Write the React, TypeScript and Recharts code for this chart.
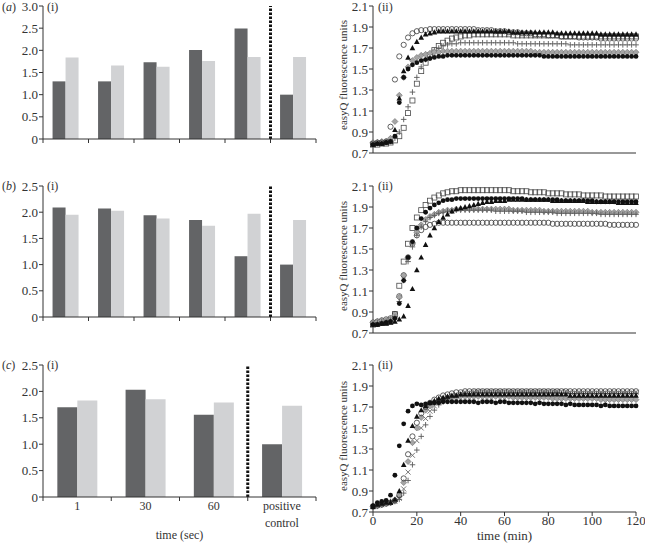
import React from 'react';
import { BarChart, Bar, LineChart, Line, XAxis, YAxis, ReferenceLine } from 'recharts';

const FONT = '"Liberation Serif", "Times New Roman", serif';
const INK = '#333';
const DARK = '#636466';
const LIGHT = '#d1d2d4';

// ---- (i) bar panels ----
const aCategories = ['1', '2', '3', '4', '5', 'positive control'];
const aDark = [1.3, 1.3, 1.73, 2.01, 2.49, 1.0];
const aLight = [1.84, 1.66, 1.63, 1.76, 1.85, 1.85];

const bCategories = ['1', '2', '3', '4', '5', 'positive control'];
const bDark = [2.09, 2.07, 1.94, 1.85, 1.16, 1.0];
const bLight = [1.95, 2.03, 1.88, 1.74, 1.97, 1.85];

const cCategories = ['1', '30', '60', 'positive control'];
const cDark = [1.7, 2.03, 1.56, 1.0];
const cLight = [1.83, 1.85, 1.79, 1.73];

const ticks30 = [0, 0.5, 1, 1.5, 2, 2.5, 3];
const ticks25 = [0, 0.5, 1, 1.5, 2, 2.5];

// ---- (ii) fluorescence panels, one reading every 2 min ----
const minutes = [
  0, 2, 4, 6, 8, 10, 12, 14, 16, 18,
  20, 22, 24, 26, 28, 30, 32, 34, 36, 38,
  40, 42, 44, 46, 48, 50, 52, 54, 56, 58,
  60, 62, 64, 66, 68, 70, 72, 74, 76, 78,
  80, 82, 84, 86, 88, 90, 92, 94, 96, 98,
  100, 102, 104, 106, 108, 110, 112, 114, 116, 118,
  120,
];
const minuteTicks = [0, 20, 40, 60, 80, 100, 120];
const fluoTicks = [0.7, 0.9, 1.1, 1.3, 1.5, 1.7, 1.9, 2.1];

const aSquare = [
  0.78, 0.78, 0.79, 0.79, 0.80, 0.82, 0.86, 0.94, 1.08, 1.20,
  1.36, 1.48, 1.56, 1.63, 1.68, 1.72, 1.75, 1.77, 1.79, 1.80,
  1.81, 1.82, 1.82, 1.83, 1.83, 1.83, 1.83, 1.83, 1.83, 1.83,
  1.83, 1.83, 1.82, 1.82, 1.82, 1.82, 1.82, 1.82, 1.82, 1.82,
  1.82, 1.82, 1.82, 1.81, 1.81, 1.81, 1.81, 1.81, 1.81, 1.81,
  1.81, 1.81, 1.81, 1.81, 1.81, 1.81, 1.81, 1.81, 1.81, 1.81,
  1.81,
];
const aPlus = [
  0.79, 0.79, 0.80, 0.80, 0.81, 0.84, 0.90, 1.02, 1.14, 1.28,
  1.42, 1.52, 1.59, 1.64, 1.68, 1.70, 1.72, 1.73, 1.74, 1.74,
  1.75, 1.75, 1.75, 1.75, 1.75, 1.75, 1.75, 1.75, 1.75, 1.75,
  1.75, 1.75, 1.75, 1.74, 1.74, 1.74, 1.74, 1.74, 1.74, 1.74,
  1.74, 1.74, 1.74, 1.74, 1.74, 1.73, 1.73, 1.73, 1.73, 1.73,
  1.73, 1.73, 1.73, 1.73, 1.73, 1.73, 1.73, 1.73, 1.73, 1.73,
  1.73,
];
const aDiamond = [
  0.80, 0.80, 0.81, 0.81, 0.84, 1.00, 1.25, 1.42, 1.52, 1.58,
  1.61, 1.63, 1.64, 1.65, 1.66, 1.66, 1.67, 1.67, 1.67, 1.67,
  1.67, 1.67, 1.67, 1.67, 1.67, 1.67, 1.67, 1.67, 1.67, 1.67,
  1.67, 1.67, 1.67, 1.67, 1.67, 1.67, 1.67, 1.66, 1.66, 1.66,
  1.66, 1.66, 1.66, 1.66, 1.66, 1.66, 1.66, 1.66, 1.66, 1.66,
  1.66, 1.66, 1.66, 1.66, 1.66, 1.66, 1.66, 1.66, 1.66, 1.66,
  1.66,
];
const aCircle = [
  0.79, 0.80, 0.80, 0.81, 0.95, 1.40, 1.62, 1.73, 1.80, 1.84,
  1.86, 1.87, 1.87, 1.88, 1.88, 1.88, 1.88, 1.88, 1.88, 1.88,
  1.88, 1.88, 1.88, 1.88, 1.87, 1.87, 1.87, 1.87, 1.86, 1.86,
  1.86, 1.85, 1.85, 1.85, 1.84, 1.84, 1.84, 1.83, 1.83, 1.83,
  1.82, 1.82, 1.82, 1.81, 1.81, 1.81, 1.81, 1.80, 1.80, 1.80,
  1.80, 1.80, 1.79, 1.79, 1.79, 1.79, 1.79, 1.79, 1.79, 1.79,
  1.79,
];
const aTriangle = [
  0.78, 0.79, 0.79, 0.80, 0.81, 0.92, 1.22, 1.48, 1.61, 1.70,
  1.76, 1.80, 1.83, 1.84, 1.85, 1.86, 1.86, 1.86, 1.86, 1.86,
  1.86, 1.86, 1.86, 1.86, 1.86, 1.86, 1.86, 1.86, 1.86, 1.86,
  1.86, 1.86, 1.85, 1.85, 1.85, 1.85, 1.85, 1.85, 1.85, 1.85,
  1.85, 1.85, 1.84, 1.84, 1.84, 1.84, 1.84, 1.84, 1.84, 1.84,
  1.84, 1.84, 1.83, 1.83, 1.83, 1.83, 1.83, 1.83, 1.83, 1.83,
  1.83,
];
const aDot = [
  0.78, 0.79, 0.79, 0.80, 0.81, 0.86, 1.18, 1.42, 1.50, 1.54,
  1.56, 1.58, 1.59, 1.60, 1.61, 1.62, 1.62, 1.63, 1.63, 1.63,
  1.63, 1.63, 1.63, 1.63, 1.63, 1.63, 1.63, 1.63, 1.63, 1.63,
  1.63, 1.63, 1.63, 1.63, 1.63, 1.63, 1.63, 1.63, 1.63, 1.62,
  1.62, 1.62, 1.62, 1.62, 1.62, 1.62, 1.62, 1.62, 1.62, 1.62,
  1.62, 1.62, 1.62, 1.62, 1.62, 1.62, 1.62, 1.62, 1.62, 1.62,
  1.62,
];

const bSquare = [
  0.78, 0.79, 0.80, 0.80, 0.81, 0.88, 1.15, 1.38, 1.55, 1.70,
  1.80, 1.87, 1.92, 1.96, 1.99, 2.01, 2.03, 2.04, 2.05, 2.05,
  2.06, 2.06, 2.06, 2.06, 2.06, 2.06, 2.06, 2.06, 2.06, 2.06,
  2.06, 2.06, 2.05, 2.05, 2.05, 2.05, 2.04, 2.04, 2.04, 2.04,
  2.03, 2.03, 2.03, 2.03, 2.02, 2.02, 2.02, 2.02, 2.01, 2.01,
  2.01, 2.01, 2.01, 2.00, 2.00, 2.00, 2.00, 2.00, 2.00, 2.00,
  2.00,
];
const bCircle = [
  0.80, 0.81, 0.82, 0.83, 0.84, 0.88, 1.05, 1.25, 1.42, 1.55,
  1.63, 1.68, 1.71, 1.73, 1.74, 1.75, 1.75, 1.75, 1.75, 1.75,
  1.75, 1.75, 1.75, 1.75, 1.75, 1.75, 1.75, 1.75, 1.75, 1.75,
  1.75, 1.75, 1.75, 1.75, 1.75, 1.75, 1.75, 1.75, 1.75, 1.75,
  1.75, 1.74, 1.74, 1.74, 1.74, 1.74, 1.74, 1.74, 1.74, 1.74,
  1.74, 1.74, 1.74, 1.74, 1.73, 1.73, 1.73, 1.73, 1.73, 1.73,
  1.73,
];
const bDiamond = [
  0.80, 0.81, 0.82, 0.82, 0.83, 0.87, 1.04, 1.25, 1.42, 1.56,
  1.66, 1.73, 1.78, 1.81, 1.83, 1.85, 1.86, 1.87, 1.87, 1.88,
  1.88, 1.88, 1.88, 1.88, 1.88, 1.88, 1.88, 1.88, 1.88, 1.88,
  1.88, 1.88, 1.87, 1.87, 1.87, 1.87, 1.87, 1.87, 1.87, 1.86,
  1.86, 1.86, 1.86, 1.86, 1.86, 1.86, 1.86, 1.86, 1.86, 1.86,
  1.85, 1.85, 1.85, 1.85, 1.85, 1.85, 1.85, 1.85, 1.85, 1.85,
  1.85,
];
const bPlus = [
  0.79, 0.80, 0.81, 0.81, 0.82, 0.85, 1.00, 1.20, 1.38, 1.52,
  1.63, 1.71, 1.76, 1.80, 1.82, 1.84, 1.85, 1.86, 1.86, 1.87,
  1.87, 1.87, 1.87, 1.87, 1.87, 1.87, 1.87, 1.87, 1.86, 1.86,
  1.86, 1.86, 1.86, 1.86, 1.86, 1.85, 1.85, 1.85, 1.85, 1.85,
  1.85, 1.85, 1.84, 1.84, 1.84, 1.84, 1.84, 1.84, 1.84, 1.84,
  1.84, 1.84, 1.83, 1.83, 1.83, 1.83, 1.83, 1.83, 1.83, 1.83,
  1.83,
];
const bDot = [
  0.78, 0.78, 0.79, 0.80, 0.81, 0.84, 0.98, 1.20, 1.42, 1.57,
  1.70, 1.79, 1.85, 1.89, 1.92, 1.94, 1.96, 1.97, 1.97, 1.98,
  1.98, 1.98, 1.98, 1.98, 1.98, 1.98, 1.98, 1.98, 1.98, 1.98,
  1.98, 1.98, 1.98, 1.98, 1.98, 1.97, 1.97, 1.97, 1.97, 1.97,
  1.97, 1.97, 1.97, 1.96, 1.96, 1.96, 1.96, 1.96, 1.96, 1.96,
  1.96, 1.95, 1.95, 1.95, 1.95, 1.95, 1.95, 1.95, 1.95, 1.95,
  1.95,
];
const bTriangle = [
  0.78, 0.78, 0.79, 0.79, 0.80, 0.81, 0.83, 0.86, 0.96, 1.12,
  1.30, 1.42, 1.54, 1.63, 1.70, 1.76, 1.80, 1.83, 1.86, 1.88,
  1.89, 1.90, 1.91, 1.92, 1.93, 1.94, 1.95, 1.95, 1.96, 1.96,
  1.96, 1.97, 1.97, 1.97, 1.97, 1.97, 1.97, 1.97, 1.97, 1.97,
  1.97, 1.96, 1.96, 1.96, 1.96, 1.96, 1.96, 1.96, 1.96, 1.95,
  1.95, 1.95, 1.95, 1.95, 1.95, 1.95, 1.94, 1.94, 1.94, 1.94,
  1.94,
];

const cDiamond = [
  0.75, 0.76, 0.77, 0.78, 0.79, 0.81, 0.85, 0.98, 1.18, 1.36,
  1.50, 1.60, 1.67, 1.71, 1.74, 1.76, 1.77, 1.78, 1.79, 1.79,
  1.80, 1.80, 1.80, 1.80, 1.80, 1.80, 1.80, 1.80, 1.80, 1.80,
  1.80, 1.80, 1.79, 1.79, 1.79, 1.79, 1.79, 1.79, 1.79, 1.79,
  1.79, 1.78, 1.78, 1.78, 1.78, 1.78, 1.78, 1.78, 1.78, 1.78,
  1.78, 1.78, 1.77, 1.77, 1.77, 1.77, 1.77, 1.77, 1.77, 1.77,
  1.77,
];
const cCross = [
  0.75, 0.76, 0.77, 0.78, 0.79, 0.80, 0.83, 0.92, 1.08, 1.24,
  1.38, 1.50, 1.59, 1.66, 1.71, 1.75, 1.78, 1.80, 1.81, 1.82,
  1.83, 1.84, 1.84, 1.84, 1.85, 1.85, 1.85, 1.85, 1.85, 1.85,
  1.85, 1.85, 1.85, 1.85, 1.85, 1.85, 1.85, 1.85, 1.85, 1.85,
  1.85, 1.85, 1.85, 1.85, 1.85, 1.84, 1.84, 1.84, 1.84, 1.84,
  1.84, 1.84, 1.84, 1.84, 1.84, 1.84, 1.84, 1.84, 1.84, 1.84,
  1.84,
];
const cPlus = [
  0.76, 0.77, 0.78, 0.79, 0.80, 0.80, 0.82, 0.88, 1.00, 1.15,
  1.29, 1.42, 1.53, 1.61, 1.67, 1.72, 1.75, 1.78, 1.80, 1.81,
  1.82, 1.83, 1.83, 1.84, 1.84, 1.84, 1.84, 1.84, 1.84, 1.84,
  1.84, 1.84, 1.84, 1.84, 1.84, 1.84, 1.84, 1.84, 1.84, 1.84,
  1.84, 1.84, 1.84, 1.83, 1.83, 1.83, 1.83, 1.83, 1.83, 1.83,
  1.83, 1.83, 1.83, 1.83, 1.83, 1.83, 1.83, 1.83, 1.83, 1.83,
  1.83,
];
const cCircle = [
  0.75, 0.76, 0.77, 0.78, 0.79, 0.81, 0.86, 1.02, 1.25, 1.42,
  1.55, 1.64, 1.70, 1.74, 1.77, 1.79, 1.81, 1.82, 1.83, 1.84,
  1.84, 1.85, 1.85, 1.85, 1.85, 1.85, 1.85, 1.85, 1.85, 1.85,
  1.85, 1.85, 1.85, 1.85, 1.85, 1.85, 1.85, 1.85, 1.85, 1.85,
  1.85, 1.85, 1.85, 1.85, 1.85, 1.85, 1.85, 1.85, 1.85, 1.85,
  1.85, 1.85, 1.85, 1.85, 1.85, 1.85, 1.85, 1.85, 1.85, 1.85,
  1.85,
];
const cTriangle = [
  0.75, 0.77, 0.78, 0.79, 0.79, 0.82, 0.90, 1.15, 1.38, 1.52,
  1.61, 1.67, 1.71, 1.74, 1.76, 1.78, 1.79, 1.80, 1.81, 1.81,
  1.82, 1.82, 1.82, 1.82, 1.82, 1.82, 1.82, 1.82, 1.82, 1.82,
  1.82, 1.82, 1.82, 1.82, 1.82, 1.82, 1.82, 1.82, 1.82, 1.82,
  1.82, 1.82, 1.82, 1.82, 1.82, 1.81, 1.81, 1.81, 1.81, 1.81,
  1.81, 1.81, 1.81, 1.81, 1.81, 1.81, 1.81, 1.81, 1.81, 1.81,
  1.81,
];
const cDot = [
  0.76, 0.79, 0.80, 0.81, 0.86, 1.05, 1.33, 1.54, 1.66, 1.71,
  1.73, 1.72, 1.73, 1.74, 1.74, 1.74, 1.75, 1.75, 1.75, 1.75,
  1.75, 1.75, 1.75, 1.75, 1.74, 1.75, 1.75, 1.75, 1.74, 1.75,
  1.75, 1.74, 1.74, 1.74, 1.74, 1.74, 1.74, 1.73, 1.74, 1.73,
  1.73, 1.73, 1.73, 1.73, 1.72, 1.73, 1.72, 1.72, 1.72, 1.72,
  1.72, 1.72, 1.71, 1.72, 1.71, 1.71, 1.71, 1.71, 1.71, 1.71,
  1.71,
];

type Shape = 'circle' | 'dot' | 'square' | 'triangle' | 'plus' | 'cross' | 'diamond';
type Series = { key: string; values: number[]; shape: Shape };

const aSeries: Series[] = [
  { key: 'square', values: aSquare, shape: 'square' },
  { key: 'plus', values: aPlus, shape: 'plus' },
  { key: 'diamond', values: aDiamond, shape: 'diamond' },
  { key: 'circle', values: aCircle, shape: 'circle' },
  { key: 'triangle', values: aTriangle, shape: 'triangle' },
  { key: 'dot', values: aDot, shape: 'dot' },
];
const bSeries: Series[] = [
  { key: 'square', values: bSquare, shape: 'square' },
  { key: 'circle', values: bCircle, shape: 'circle' },
  { key: 'diamond', values: bDiamond, shape: 'diamond' },
  { key: 'plus', values: bPlus, shape: 'plus' },
  { key: 'dot', values: bDot, shape: 'dot' },
  { key: 'triangle', values: bTriangle, shape: 'triangle' },
];
const cSeries: Series[] = [
  { key: 'diamond', values: cDiamond, shape: 'diamond' },
  { key: 'cross', values: cCross, shape: 'cross' },
  { key: 'plus', values: cPlus, shape: 'plus' },
  { key: 'circle', values: cCircle, shape: 'circle' },
  { key: 'triangle', values: cTriangle, shape: 'triangle' },
  { key: 'dot', values: cDot, shape: 'dot' },
];

const fmt1 = (v: number) => (v === 0 ? '0' : v.toFixed(1));

const marker = (shape: Shape) => (p: any) => {
  const { cx, cy, index } = p;
  const k = `${shape}-${index}`;
  if (cx == null || cy == null) return <g key={k} />;
  switch (shape) {
    case 'circle':
      return <circle key={k} cx={cx} cy={cy} r={2.6} fill="none" stroke="#3a3a3a" strokeWidth={0.8} />;
    case 'dot':
      return <circle key={k} cx={cx} cy={cy} r={2.4} fill="#111" />;
    case 'square':
      return <rect key={k} x={cx - 2.5} y={cy - 2.5} width={5} height={5} fill="none" stroke="#4a4a4a" strokeWidth={0.8} />;
    case 'triangle':
      return <path key={k} d={`M${cx},${cy - 3}L${cx + 2.8},${cy + 2.2}L${cx - 2.8},${cy + 2.2}Z`} fill="#111" />;
    case 'plus':
      return <path key={k} d={`M${cx - 2.8},${cy}H${cx + 2.8}M${cx},${cy - 2.8}V${cy + 2.8}`} stroke="#5a5a5a" strokeWidth={0.9} />;
    case 'cross':
      return <path key={k} d={`M${cx - 2.5},${cy - 2.5}L${cx + 2.5},${cy + 2.5}M${cx - 2.5},${cy + 2.5}L${cx + 2.5},${cy - 2.5}`} stroke="#6a6a6a" strokeWidth={0.9} />;
    default:
      return <path key={k} d={`M${cx},${cy - 3}L${cx + 3},${cy}L${cx},${cy + 3}L${cx - 3},${cy}Z`} fill="#a5a5a5" stroke="#707070" strokeWidth={0.6} />;
  }
};

const PLOT_W = 273;
const textStyle = { fontFamily: FONT };

const barTick = (count: number, showLabels: boolean) => (props: any) => {
  const { x, y, payload, index } = props;
  const band = PLOT_W / count;
  const left = x - band / 2;
  const lines = showLabels ? String(payload.value).split(' ') : [];
  return (
    <g key={`tick-${index}`}>
      <line x1={left} x2={left} y1={y} y2={y + 4} stroke={INK} />
      {index === count - 1 && <line x1={left + band} x2={left + band} y1={y} y2={y + 4} stroke={INK} />}
      {lines.map((ln, k) => (
        <text key={k} x={x} y={y + 13 + k * 17} textAnchor="middle" fontSize={12} fill={INK} style={textStyle}>
          {ln}
        </text>
      ))}
    </g>
  );
};

interface BarPanelProps {
  categories: string[]
  dark: number[]
  light: number[]
  yTicks: number[]
  top: number
  marginTop: number
  height: number
  xHeight: number
  showLabels?: boolean
  xTitle?: string
}

const BarPanel = ({ categories, dark, light, yTicks, top, marginTop, height, xHeight, showLabels = false, xTitle }: BarPanelProps) => {
  const data = categories.map((c, i) => ({ category: c, dark: dark[i], light: light[i] }));
  return (
    <div style={{ position: 'absolute', left: 0, top }}>
      <BarChart width={330} height={height} data={data} margin={{ top: marginTop, right: 14, left: 0, bottom: 0 }} barCategoryGap="21%" barGap={0}>
        <XAxis
          dataKey="category"
          height={xHeight}
          interval={0}
          tickLine={false}
          tickSize={0}
          tickMargin={0}
          axisLine={{ stroke: INK }}
          tick={barTick(categories.length, showLabels)}
          label={xTitle ? { value: xTitle, position: 'insideBottom', offset: 3, fontSize: 12, fill: INK, style: textStyle } : undefined}
        />
        <YAxis
          type="number"
          domain={[0, yTicks[yTicks.length - 1]]}
          ticks={yTicks}
          interval={0}
          width={43}
          tickSize={4}
          tickMargin={1}
          tickFormatter={fmt1}
          axisLine={{ stroke: INK }}
          tickLine={{ stroke: INK }}
          tick={{ fontSize: 13, fill: INK, style: textStyle }}
        />
        <Bar dataKey="dark" fill={DARK} isAnimationActive={false} />
        <Bar dataKey="light" fill={LIGHT} isAnimationActive={false} />
        <ReferenceLine x="positive control" position="start" stroke="#111" strokeWidth={3} strokeDasharray="2.5 1.5" />
      </BarChart>
    </div>
  );
};

interface LinePanelProps {
  series: Series[]
  top: number
  marginTop: number
  height: number
  xHeight: number
  showX?: boolean
}

const LinePanel = ({ series, top, marginTop, height, xHeight, showX = false }: LinePanelProps) => {
  const rows = minutes.map((t, i) => {
    const row: Record<string, number> = { t };
    series.forEach((s) => {
      row[s.key] = s.values[i];
    });
    return row;
  });
  return (
    <div style={{ position: 'absolute', left: 330, top }}>
      <LineChart width={315} height={height} data={rows} margin={{ top: marginTop, right: 9, left: 0, bottom: 0 }}>
        <XAxis
          dataKey="t"
          type="number"
          domain={[0, 120]}
          ticks={minuteTicks}
          interval={0}
          height={xHeight}
          tickSize={4}
          tickMargin={0}
          axisLine={{ stroke: INK }}
          tickLine={{ stroke: INK }}
          tick={showX ? { fontSize: 13, fill: INK, style: textStyle } : false}
          label={showX ? { value: 'time (min)', position: 'insideBottom', offset: 3, fontSize: 13, fill: INK, style: textStyle } : undefined}
        />
        <YAxis
          type="number"
          domain={[0.7, 2.1]}
          ticks={fluoTicks}
          interval={0}
          width={43}
          tickSize={4}
          tickMargin={1}
          tickFormatter={(v: number) => v.toFixed(1)}
          axisLine={{ stroke: INK }}
          tickLine={{ stroke: INK }}
          tick={{ fontSize: 13, fill: INK, style: textStyle }}
        />
        {series.map((s) => (
          <Line
            key={s.key}
            dataKey={s.key}
            stroke="none"
            dot={marker(s.shape)}
            activeDot={false}
            legendType="none"
            isAnimationActive={false}
          />
        ))}
      </LineChart>
    </div>
  );
};

const Note = ({ x, y, children, size = 12 }: { x: number; y: number; children: React.ReactNode; size?: number }) => (
  <div style={{ position: 'absolute', left: x, top: y - 7, lineHeight: '14px', fontSize: size, color: INK, whiteSpace: 'nowrap' }}>
    {children}
  </div>
);

const YTitle = ({ y }: { y: number }) => (
  <div
    style={{
      position: 'absolute',
      left: 343,
      top: y,
      transform: 'translate(-50%, -50%) rotate(-90deg)',
      fontSize: 11,
      color: INK,
      whiteSpace: 'nowrap',
    }}
  >
    easyQ fluorescence units
  </div>
);

export default function App() {
  return (
    <div style={{ position: 'absolute', left: 0, top: 0, width: 645, height: 543, overflow: 'hidden', fontFamily: FONT, background: '#fff' }}>
      <BarPanel categories={aCategories} dark={aDark} light={aLight} yTicks={ticks30} top={0} marginTop={6} height={159} xHeight={20} />
      <BarPanel categories={bCategories} dark={bDark} light={bLight} yTicks={ticks25} top={180} marginTop={6} height={157} xHeight={20} />
      <BarPanel categories={cCategories} dark={cDark} light={cLight} yTicks={ticks25} top={355} marginTop={10} height={187} xHeight={45} showLabels xTitle="time (sec)" />

      <LinePanel series={aSeries} top={0} marginTop={6} height={173} xHeight={20} />
      <LinePanel series={bSeries} top={180} marginTop={6} height={173} xHeight={20} />
      <LinePanel series={cSeries} top={355} marginTop={10} height={188} xHeight={31} showX />

      <Note x={2} y={7}>(<i>a</i>)</Note>
      <Note x={2} y={186}>(<i>b</i>)</Note>
      <Note x={2} y={365}>(<i>c</i>)</Note>
      <Note x={47} y={7}>(i)</Note>
      <Note x={47} y={186}>(i)</Note>
      <Note x={47} y={365}>(i)</Note>
      <Note x={378} y={7}>(ii)</Note>
      <Note x={378} y={186}>(ii)</Note>
      <Note x={378} y={365}>(ii)</Note>

      <YTitle y={75} />
      <YTitle y={256} />
      <YTitle y={436} />
    </div>
  );
}
